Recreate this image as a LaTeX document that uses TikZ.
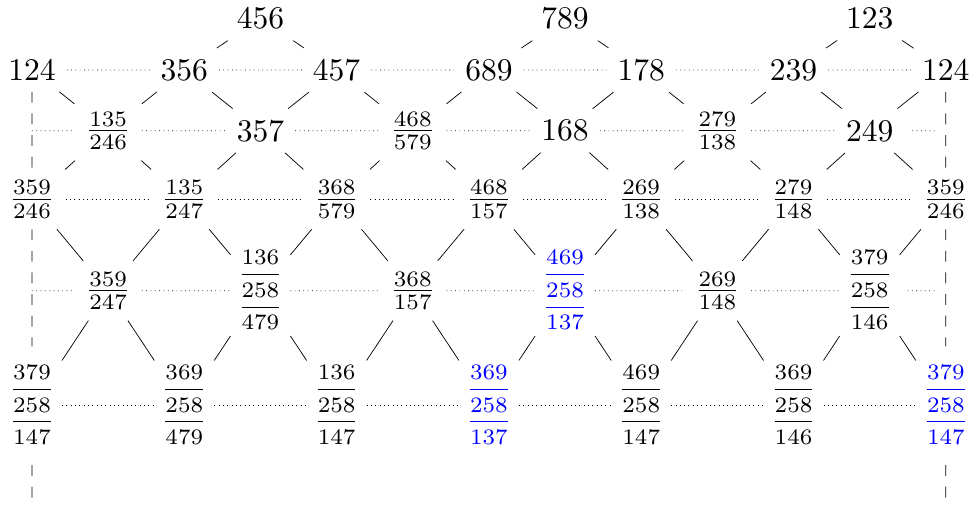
\documentclass[tikz,border=0pt]{standalone}
\usepackage{tikz}
\newcommand{\pickColor}{blue}
\newcommand{\tri}[3]{{\fontsize{7}{8.4}\selectfont\renewcommand{\arraystretch}{1.19}%
    \setlength{\arrayrulewidth}{0.3pt}%
    \begin{tabular}{@{}c@{}}#1\\\hline #2\\\hline #3\end{tabular}}}

\begin{document}
\begin{tikzpicture}[
            x=1.4856cm, y=1cm,
            every node/.append style={scale=1.75},
            pick/.style={text=\pickColor},
            rung/.style={dotted},
            side/.style={dash pattern=on 6pt off 6pt}
        ]
        \useasboundingbox (-0.4202,1.366) rectangle (12.370,-8.583);
        % top
        \node (n456) at (3,1.005) {456};
        \node (n789) at (7,1.005) {789};
        \node (n123) at (11,1.005) {123};
        % row 1
        \node (n124a) at (0,0) {124};
        \node (n356) at (2,0) {356};
        \node (n457) at (4,0) {457};
        \node (n689) at (6,0) {689};
        \node (n178) at (8,0) {178};
        \node (n239) at (10,0) {239};
        \node (n124b) at (12,0) {124};
        % row 2
        \coordinate (s2a) at (0,-1.184);
        \node (f135x246) at (1,-1.184) {$\frac{135}{246}$};
        \node (n357) at (3,-1.184) {357};
        \node (f468x579) at (5,-1.184) {$\frac{468}{579}$};
        \node (n168) at (7,-1.184) {168};
        \node (f279x138) at (9,-1.184) {$\frac{279}{138}$};
        \node (n249) at (11,-1.184) {249};
        \coordinate (s2b) at (12,-1.184);
        % row 3
        \node (f359x246a) at (0,-2.523) {$\frac{359}{246}$};
        \node (f135x247) at (2,-2.523) {$\frac{135}{247}$};
        \node (f368x579) at (4,-2.523) {$\frac{368}{579}$};
        \node (f468x157) at (6,-2.523) {$\frac{468}{157}$};
        \node (f269x138) at (8,-2.523) {$\frac{269}{138}$};
        \node (f279x148) at (10,-2.523) {$\frac{279}{148}$};
        \node (f359x246b) at (12,-2.523) {$\frac{359}{246}$};
        % row 4
        \coordinate (s4a) at (0,-4.306);
        \node (f359x247) at (1,-4.306) {$\frac{359}{247}$};
        \node (t136x479) at (3,-4.306) {\tri{136}{258}{479}};
        \node (f368x157) at (5,-4.306) {$\frac{368}{157}$};
        \node[pick] (t469x137) at (7,-4.306) {\tri{469}{258}{137}};
        \node (f269x148) at (9,-4.306) {$\frac{269}{148}$};
        \node (t379x146) at (11,-4.306) {\tri{379}{258}{146}};
        \coordinate (s4b) at (12,-4.306);
        % row 5
        \node (t379x147a) at (0,-6.549) {\tri{379}{258}{147}};
        \node (t369x479) at (2,-6.549) {\tri{369}{258}{479}};
        \node (t136x147) at (4,-6.549) {\tri{136}{258}{147}};
        \node[pick] (t369x137) at (6,-6.549) {\tri{369}{258}{137}};
        \node (t469x147) at (8,-6.549) {\tri{469}{258}{147}};
        \node (t369x146) at (10,-6.549) {\tri{369}{258}{146}};
        \node[pick] (t379x147b) at (12,-6.549) {\tri{379}{258}{147}};
        \coordinate (s6a) at (0,-8.486);
        \coordinate (s6b) at (12,-8.486);

        % solid links
        \draw (n356) -- (n456) -- (n457)
              (n689) -- (n789) -- (n178)
              (n239) -- (n123) -- (n124b);
        \draw (n124a) -- (f135x246) -- (n356) -- (n357) -- (n457) -- (f468x579) -- (n689)
              -- (n168) -- (n178) -- (f279x138) -- (n239) -- (n249) -- (n124b);
        \draw (f359x246a) -- (f135x246) -- (f135x247) -- (n357) -- (f368x579) -- (f468x579)
              -- (f468x157) -- (n168) -- (f269x138) -- (f279x138) -- (f279x148) -- (n249) -- (f359x246b);
        \draw (f359x246a) -- (f359x247) -- (f135x247) -- (t136x479) -- (f368x579) -- (f368x157)
              -- (f468x157) -- (t469x137) -- (f269x138) -- (f269x148) -- (f279x148) -- (t379x146) -- (f359x246b);
        \draw (t379x147a) -- (f359x247) -- (t369x479) -- (t136x479) -- (t136x147) -- (f368x157)
              -- (t369x137) -- (t469x137) -- (t469x147) -- (f269x148) -- (t369x146) -- (t379x146) -- (t379x147b);

        % dotted rows
        \draw[rung] (n124a) -- (n356) -- (n457) -- (n689) -- (n178) -- (n239) -- (n124b);
        \draw[rung, shorten <=4.4pt, shorten >=4.4pt] (s2a) -- (f135x246) -- (n357) -- (f468x579)
              -- (n168) -- (f279x138) -- (n249) -- (s2b);
        \draw[rung] (f359x246a) -- (f135x247) -- (f368x579) -- (f468x157) -- (f269x138) -- (f279x148) -- (f359x246b);
        \draw[rung, shorten <=4.4pt, shorten >=4.4pt] (s4a) -- (f359x247) -- (t136x479) -- (f368x157)
              -- (t469x137) -- (f269x148) -- (t379x146) -- (s4b);
        \draw[rung] (t379x147a) -- (t369x479) -- (t136x147) -- (t369x137) -- (t469x147) -- (t369x146) -- (t379x147b);

        % dashed sides
        \draw[side] (n124a) -- (f359x246a) -- (t379x147a) -- (s6a);
        \draw[side] (n124b) -- (f359x246b) -- (t379x147b) -- (s6b);
    \end{tikzpicture}
\end{document}
